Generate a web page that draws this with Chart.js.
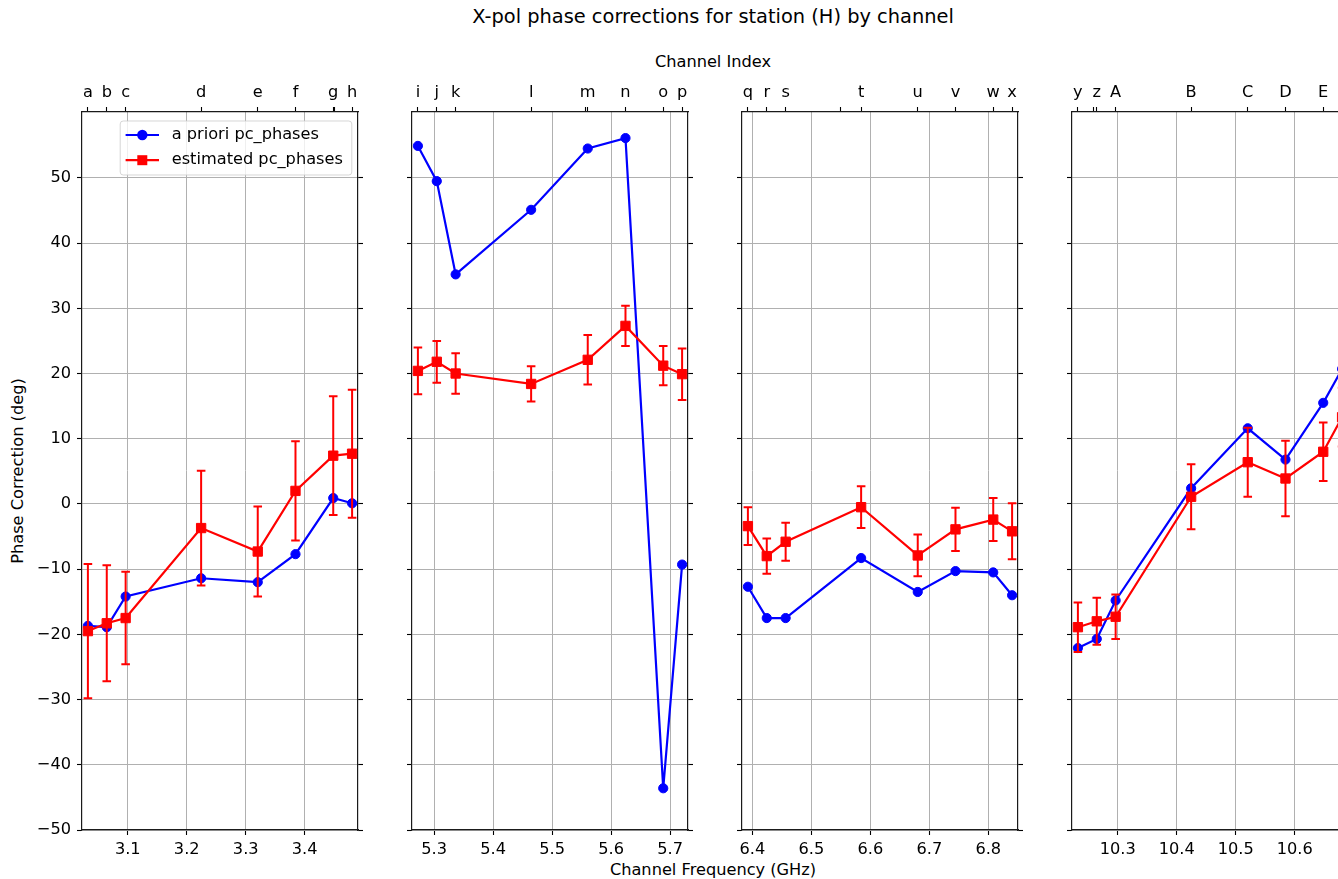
<!DOCTYPE html>
<html>
<head>
<meta charset="utf-8">
<title>X-pol phase corrections</title>
<script src="https://cdn.jsdelivr.net/npm/chart.js@4/dist/chart.umd.min.js"></script>
<style>
  html, body { margin: 0; padding: 0; overflow: hidden; background: #fff; }
  #fig { position: relative; width: 1338px; height: 879px; overflow: hidden;
         font-family: "DejaVu Sans", sans-serif; color: #000; background: #fff; }
  .txt { position: absolute; white-space: nowrap; line-height: 1; transform: translate(-50%, -50%); }
</style>
</head>
<body>
<div id="fig">
  <div class="txt" style="left:713px; top:17px; font-size:19.4px;">X-pol phase corrections for station (H) by channel</div>
  <div class="txt" style="left:713px; top:62px; font-size:16.2px;">Channel Index</div>
  <div class="txt" style="left:713px; top:870px; font-size:16.2px;">Channel Frequency (GHz)</div>
  <div class="txt" style="left:18px; top:471px; font-size:16.2px; transform:translate(-50%,-50%) rotate(-90deg);">Phase Correction (deg)</div>
</div>
<script>
// ---- channel layout (GHz) and labels, one array per band ----
const freqA = [3.0324, 3.0644, 3.0964, 3.2244, 3.3204, 3.3844, 3.4484, 3.4804];
const freqB = [5.2724, 5.3044, 5.3364, 5.4644, 5.5604, 5.6244, 5.6884, 5.7204];
const freqC = [6.3924, 6.4244, 6.4564, 6.5844, 6.6804, 6.7444, 6.8084, 6.8404];
const freqD = [10.2324, 10.2644, 10.2964, 10.4244, 10.5204, 10.5844, 10.6484, 10.6804];

const chanA = ['a', 'b', 'c', 'd', 'e', 'f', 'g', 'h'];
const chanB = ['i', 'j', 'k', 'l', 'm', 'n', 'o', 'p'];
const chanC = ['q', 'r', 's', 't', 'u', 'v', 'w', 'x'];
const chanD = ['y', 'z', 'A', 'B', 'C', 'D', 'E', 'F'];

// unlabeled extra channel-index ticks on the top axes
const extraTopA = [3.4513];
const extraTopB = [5.5570];
const extraTopC = [6.5500];
const extraTopD = [10.2590];

// ---- phase values (deg) ----
const aprioriA = [-18.7, -18.9, -14.2, -11.4, -12.0, -7.7, 0.9, 0.1];
const aprioriB = [54.9, 49.5, 35.2, 45.1, 54.5, 56.1, -43.6, -9.3];
const aprioriC = [-12.7, -17.5, -17.5, -8.3, -13.5, -10.3, -10.5, -14.0];
const aprioriD = [-22.1, -20.7, -14.8, 2.4, 11.6, 6.8, 15.5, 20.7];

const estA = [-19.5, -18.3, -17.5, -3.7, -7.3, 2.0, 7.4, 7.7];
const estB = [20.4, 21.8, 20.0, 18.4, 22.1, 27.3, 21.2, 19.9];
const estC = [-3.4, -8.0, -5.8, -0.5, -7.9, -3.9, -2.4, -4.2];
const estD = [-18.9, -18.0, -17.3, 1.1, 6.4, 3.9, 8.0, 13.3];

const errA = [10.3, 8.9, 7.1, 8.8, 6.9, 7.6, 9.1, 9.8];
const errB = [3.6, 3.2, 3.1, 2.7, 3.8, 3.1, 3.0, 3.95];
const errC = [2.9, 2.7, 2.9, 3.2, 3.2, 3.3, 3.3, 4.3];
const errD = [3.8, 3.6, 3.4, 5.0, 5.3, 5.8, 4.5, 4.5];

// ---- axis ticks ----
const freqTicksA = [3.1, 3.2, 3.3, 3.4];
const freqTicksB = [5.3, 5.4, 5.5, 5.6, 5.7];
const freqTicksC = [6.4, 6.5, 6.6, 6.7, 6.8];
const freqTicksD = [10.3, 10.4, 10.5, 10.6];
const yTicks = [-50, -40, -30, -20, -10, 0, 10, 20, 30, 40, 50];
const Y_MIN = -50, Y_MAX = 60.1;
const X_PAD = 0.01;

const bands = [
  { f: freqA, ch: chanA, extra: extraTopA, ap: aprioriA, est: estA, err: errA, ft: freqTicksA },
  { f: freqB, ch: chanB, extra: extraTopB, ap: aprioriB, est: estB, err: errB, ft: freqTicksB },
  { f: freqC, ch: chanC, extra: extraTopC, ap: aprioriC, est: estC, err: errC, ft: freqTicksC },
  { f: freqD, ch: chanD, extra: extraTopD, ap: aprioriD, est: estD, err: errD, ft: freqTicksD }
];

// ---- page geometry of the four subplots ----
const PANEL_LEFT = [82, 412, 742, 1072];
const PANEL_W = 276;
const CANVAS_TOP = 70, CANVAS_H = 790;
const TOP_AXIS_H = 42, BOTTOM_AXIS_H = 30, RIGHT_W = 12;
const FONT_PX = 16.2;

const BLACK = '#000000';
const GRID = '#b0b0b0';
const SPINE = '#1a1a1a';

Chart.defaults.font.family = '"DejaVu Sans", sans-serif';
Chart.defaults.font.size = FONT_PX;
Chart.defaults.color = BLACK;

const fmtY = v => (v < 0 ? '\u2212' + Math.abs(v) : String(v));

// vertical error bars with caps, drawn just before their dataset
const errorBarPlugin = {
  id: 'errorBars',
  beforeDatasetDraw(chart, args) {
    const ds = chart.data.datasets[args.index];
    if (!ds.errors) return;
    const { ctx, chartArea: a } = chart;
    const xs = chart.scales.x, ys = chart.scales.y;
    ctx.save();
    ctx.beginPath();
    ctx.rect(a.left, a.top, a.right - a.left, a.bottom - a.top);
    ctx.clip();
    ctx.strokeStyle = ds.borderColor;
    ctx.lineWidth = 2;
    ds.data.forEach((p, i) => {
      const e = ds.errors[i];
      const px = xs.getPixelForValue(p.x);
      const t = ys.getPixelForValue(p.y + e);
      const b = ys.getPixelForValue(p.y - e);
      ctx.beginPath();
      ctx.moveTo(px, t); ctx.lineTo(px, b);
      ctx.moveTo(px - 4.3, t); ctx.lineTo(px + 4.3, t);
      ctx.moveTo(px - 4.3, b); ctx.lineTo(px + 4.3, b);
      ctx.stroke();
    });
    ctx.restore();
  }
};

// framed legend in the upper right of the plot area
const boxLegendPlugin = {
  id: 'boxLegend',
  afterDraw(chart, args, opts) {
    if (!opts.show) return;
    const { ctx, chartArea: a } = chart;
    const bw = 231.6, bh = 54;
    const bx = a.right - 6.2 - bw, by = a.top + 9;
    ctx.save();
    ctx.beginPath();
    ctx.roundRect(bx, by, bw, bh, 3);
    ctx.fillStyle = 'rgba(255,255,255,0.8)';
    ctx.fill();
    ctx.strokeStyle = 'rgba(204,204,204,0.8)';
    ctx.lineWidth = 1;
    ctx.stroke();
    chart.data.datasets.forEach((ds, i) => {
      const y = by + 14 + i * 25.2;
      const x0 = bx + 5.4, x1 = bx + 38.8, xm = (x0 + x1) / 2;
      ctx.strokeStyle = ds.borderColor;
      ctx.lineWidth = 2.2;
      ctx.beginPath(); ctx.moveTo(x0, y); ctx.lineTo(x1, y); ctx.stroke();
      ctx.fillStyle = ds.backgroundColor;
      ctx.beginPath();
      if (ds.pointStyle === 'rect') {
        ctx.rect(xm - 5, y - 5, 10, 10);
      } else {
        ctx.arc(xm, y, 5.2, 0, Math.PI * 2);
      }
      ctx.fill();
      ctx.fillStyle = BLACK;
      ctx.font = FONT_PX + 'px "DejaVu Sans", sans-serif';
      ctx.textBaseline = 'middle';
      ctx.textAlign = 'left';
      ctx.fillText(ds.label, bx + 51.5, y);
    });
    ctx.restore();
  }
};

const fig = document.getElementById('fig');

bands.forEach((band, k) => {
  const leftW = k === 0 ? 82 : 12;
  const W = leftW + PANEL_W + RIGHT_W;
  const cv = document.createElement('canvas');
  cv.width = W; cv.height = CANVAS_H;
  cv.style.cssText = `position:absolute; left:${PANEL_LEFT[k] - leftW}px; top:${CANVAS_TOP}px; width:${W}px; height:${CANVAS_H}px;`;
  fig.appendChild(cv);

  const xmin = band.f[0] - X_PAD;
  const xmax = band.f[band.f.length - 1] + X_PAD;

  const topTicks = band.f.map((v, i) => ({ value: v, lbl: band.ch[i] }))
    .concat(band.extra.map(v => ({ value: v, lbl: '' })))
    .sort((p, q) => p.value - q.value);

  new Chart(cv, {
    type: 'line',
    data: {
      datasets: [
        {
          label: 'a priori pc_phases',
          data: band.f.map((x, i) => ({ x, y: band.ap[i] })),
          borderColor: '#0000ff',
          backgroundColor: '#0000ff',
          borderWidth: 2.2,
          pointStyle: 'circle',
          pointRadius: 4.6,
          pointBorderWidth: 1,
          tension: 0,
          order: 1
        },
        {
          label: 'estimated pc_phases',
          data: band.f.map((x, i) => ({ x, y: band.est[i] })),
          errors: band.err,
          borderColor: '#ff0000',
          backgroundColor: '#ff0000',
          borderWidth: 2.2,
          pointStyle: 'rect',
          pointRadius: 6.6,
          pointBorderWidth: 1,
          tension: 0,
          order: 0
        }
      ]
    },
    options: {
      responsive: false,
      animation: false,
      events: [],
      layout: { padding: 0 },
      plugins: {
        legend: { display: false },
        tooltip: { enabled: false },
        boxLegend: { show: k === 0 }
      },
      scales: {
        x: {
          type: 'linear',
          position: 'bottom',
          min: xmin, max: xmax,
          afterBuildTicks: s => { s.ticks = band.ft.map(v => ({ value: v })); },
          afterFit: s => { s.height = BOTTOM_AXIS_H; },
          ticks: { autoSkip: false, maxRotation: 0, minRotation: 0, padding: 5, color: BLACK,
                   callback: v => Number(v).toFixed(1) },
          grid: { color: GRID, lineWidth: 1, tickColor: BLACK, tickWidth: 1.1, tickLength: 5 },
          border: { color: SPINE, width: 1.2 }
        },
        xTop: {
          type: 'linear',
          axis: 'x',
          position: 'top',
          min: xmin, max: xmax,
          afterBuildTicks: s => { s.ticks = topTicks.map(t => ({ value: t.value, lbl: t.lbl })); },
          afterFit: s => { s.height = TOP_AXIS_H; },
          ticks: { autoSkip: false, maxRotation: 0, minRotation: 0, padding: 4.5, color: BLACK,
                   callback: (v, i, ticks) => ticks[i].lbl },
          grid: { drawOnChartArea: false, tickColor: BLACK, tickWidth: 1.1, tickLength: 5 },
          border: { color: SPINE, width: 1.2 }
        },
        y: {
          type: 'linear',
          position: 'left',
          min: Y_MIN, max: Y_MAX,
          afterBuildTicks: s => { s.ticks = yTicks.map(v => ({ value: v })); },
          afterFit: s => { s.width = leftW; },
          ticks: { display: k === 0, padding: 6, color: BLACK, callback: v => fmtY(v) },
          grid: { color: GRID, lineWidth: 1, tickColor: BLACK, tickWidth: 1.1, tickLength: 5 },
          border: { color: SPINE, width: 1.2 }
        },
        yR: {
          type: 'linear',
          axis: 'y',
          position: 'right',
          min: Y_MIN, max: Y_MAX,
          afterBuildTicks: s => { s.ticks = yTicks.map(v => ({ value: v })); },
          afterFit: s => { s.width = RIGHT_W; },
          ticks: { display: false },
          grid: { drawOnChartArea: false, tickColor: BLACK, tickWidth: 1.1, tickLength: 5 },
          border: { color: SPINE, width: 1.2 }
        }
      }
    },
    plugins: [errorBarPlugin, boxLegendPlugin]
  });
});
</script>
</body>
</html>
